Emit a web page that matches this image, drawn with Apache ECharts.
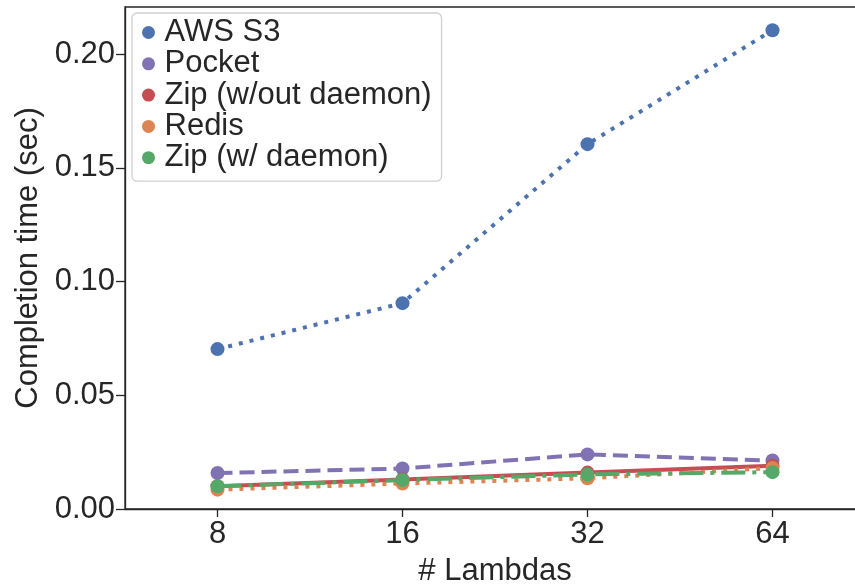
<!DOCTYPE html>
<html><head><meta charset="utf-8">
<script src="https://cdn.jsdelivr.net/npm/echarts@6/dist/echarts.min.js"></script>
<style>html,body{margin:0;padding:0;background:#fff}#c{width:855px;height:587px}</style>
</head><body><div id="c"></div>
<script>
const categories = ['8', '16', '32', '64'];
const seriesNames = ['AWS S3', 'Pocket', 'Zip (w/out daemon)', 'Redis', 'Zip (w/ daemon)'];
const awsS3 = [0.0703, 0.0905, 0.1604, 0.2105];
const pocket = [0.0158, 0.0178, 0.0240, 0.0213];
const zipNoDaemon = [0.0100, 0.0130, 0.0160, 0.0190];
const redis = [0.0085, 0.0112, 0.0135, 0.0180];
const zipDaemon = [0.0100, 0.0127, 0.0152, 0.0162];
const yTicks = [0, 0.05, 0.10, 0.15, 0.20];

const colors = ['#4c72b0', '#8172b3', '#c44e52', '#dd8452', '#55a868'];
const styles = [[4, 7], [15, 7], 'solid', [4, 7], [24, 7, 4, 7]];
const values = [awsS3, pocket, zipNoDaemon, redis, zipDaemon];
const FONT = '"Liberation Sans", Arial, sans-serif';
const FS = 31;

const chart = echarts.init(document.getElementById('c'));
chart.setOption({
  animation: false,
  backgroundColor: '#fff',
  grid: { left: 125, width: 740, top: 7, bottom: 78, outerBoundsMode: 'none', containLabel: false, show: true, borderColor: '#262626', borderWidth: 1.3, backgroundColor: 'transparent' },
  xAxis: {
    type: 'value', min: -0.5, max: 3.5,
    name: '# Lambdas', nameLocation: 'middle', nameGap: 47,
    nameTextStyle: { fontFamily: FONT, fontSize: FS, color: '#262626' },
    axisLine: { show: true, onZero: false, lineStyle: { color: '#262626', width: 1.3 } },
    axisTick: { show: true, inside: false, length: 8, lineStyle: { color: '#262626', width: 1.3 }, customValues: [0, 1, 2, 3] },
    axisLabel: { fontFamily: FONT, fontSize: FS, color: '#262626', margin: 10, customValues: [0, 1, 2, 3], formatter: v => categories[Math.round(v)] },
    splitLine: { show: false }
  },
  yAxis: {
    type: 'value', min: 0, max: 0.2207,
    name: 'Completion time (sec)', nameLocation: 'middle', nameGap: 81,
    nameTextStyle: { fontFamily: FONT, fontSize: FS, color: '#262626' },
    axisLine: { show: true, onZero: false, lineStyle: { color: '#262626', width: 1.3 } },
    axisTick: { show: true, inside: false, length: 9, lineStyle: { color: '#262626', width: 1.3 }, customValues: yTicks },
    axisLabel: { fontFamily: FONT, fontSize: FS, color: '#262626', margin: 10, customValues: yTicks, formatter: v => v.toFixed(2) },
    splitLine: { show: false }
  },
  legend: {
    left: 132, top: 13, orient: 'vertical',
    padding: [4, 10, 8, 10],
    itemGap: 0.3, itemWidth: 22, itemHeight: 13,
    borderColor: '#d0d0d0', borderWidth: 1.3, borderRadius: 5,
    backgroundColor: 'rgba(255,255,255,0.8)',
    textStyle: { fontFamily: FONT, fontSize: FS, color: '#262626', lineHeight: 31 },
    data: seriesNames.map(n => ({ name: n, icon: 'circle' })),
    z: 20
  },
  series: seriesNames.map((n, i) => ({
    name: n, type: 'line',
    data: values[i].map((v, j) => [j, v]),
    symbol: 'circle', symbolSize: 14,
    itemStyle: { color: colors[i] },
    lineStyle: { color: colors[i], width: 4, type: styles[i] },
    z: 2 + i
  }))
});
</script></body></html>
